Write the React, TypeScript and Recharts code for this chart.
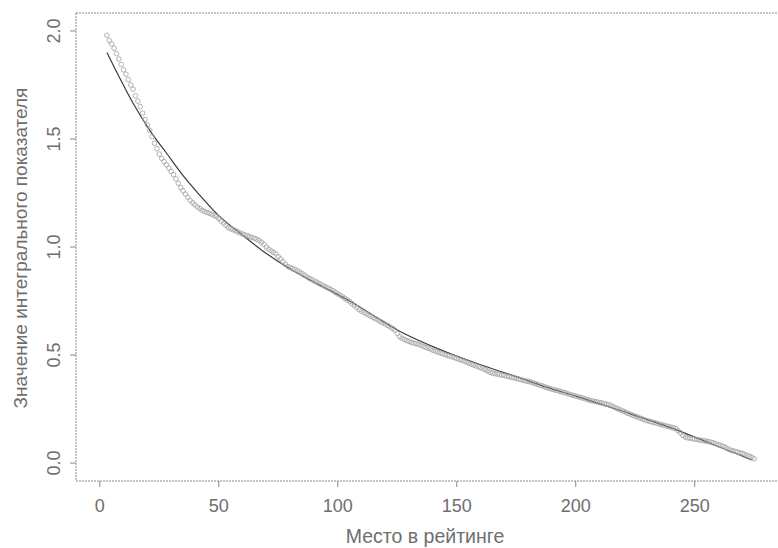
import React from "react";
import { ComposedChart, Scatter, Line, XAxis, YAxis, ReferenceLine } from "recharts";

// integral index value for each place in the rating, starting at place 3
const firstRank = 3;
const scores = [
  1.98, 1.955, 1.94, 1.92, 1.895, 1.87, 1.845, 1.82,
  1.8, 1.775, 1.75, 1.73, 1.7, 1.675, 1.65, 1.62, 1.59, 1.565,
  1.54, 1.51, 1.48, 1.455, 1.43, 1.41, 1.395, 1.38, 1.365, 1.35,
  1.335, 1.315, 1.295, 1.275, 1.26, 1.245, 1.23, 1.215, 1.205, 1.195,
  1.185, 1.178, 1.17, 1.165, 1.16, 1.156, 1.152, 1.146, 1.14, 1.132,
  1.12, 1.11, 1.1, 1.09, 1.085, 1.08, 1.075, 1.07, 1.065, 1.06,
  1.056, 1.052, 1.048, 1.044, 1.04, 1.036, 1.03, 1.022, 1.012, 1.0,
  0.99, 0.982, 0.975, 0.968, 0.955, 0.945, 0.932, 0.92, 0.91, 0.905,
  0.9, 0.896, 0.89, 0.884, 0.877, 0.87, 0.862, 0.855, 0.85, 0.843,
  0.838, 0.832, 0.826, 0.82, 0.815, 0.81, 0.804, 0.798, 0.79, 0.783,
  0.777, 0.77, 0.762, 0.755, 0.747, 0.738, 0.729, 0.72, 0.71, 0.703,
  0.697, 0.691, 0.685, 0.679, 0.673, 0.667, 0.661, 0.655, 0.649, 0.643,
  0.637, 0.63, 0.623, 0.615, 0.6, 0.585, 0.578, 0.572, 0.567, 0.563,
  0.558, 0.555, 0.552, 0.55, 0.545, 0.54, 0.535, 0.532, 0.528, 0.522,
  0.518, 0.514, 0.51, 0.506, 0.502, 0.498, 0.495, 0.492, 0.488, 0.484,
  0.48, 0.476, 0.472, 0.468, 0.463, 0.458, 0.454, 0.45, 0.446, 0.442,
  0.437, 0.432, 0.426, 0.42, 0.417, 0.414, 0.412, 0.41, 0.407, 0.405,
  0.402, 0.4, 0.397, 0.394, 0.392, 0.389, 0.386, 0.383, 0.38, 0.378,
  0.375, 0.372, 0.368, 0.364, 0.36, 0.357, 0.353, 0.349, 0.345, 0.342,
  0.339, 0.336, 0.333, 0.33, 0.327, 0.324, 0.32, 0.316, 0.313, 0.31,
  0.307, 0.304, 0.301, 0.297, 0.294, 0.29, 0.288, 0.285, 0.283, 0.28,
  0.278, 0.275, 0.272, 0.27, 0.265, 0.26, 0.255, 0.25, 0.245, 0.24,
  0.235, 0.23, 0.226, 0.221, 0.217, 0.213, 0.208, 0.204, 0.2, 0.196,
  0.193, 0.19, 0.187, 0.184, 0.181, 0.178, 0.175, 0.172, 0.169, 0.166,
  0.163, 0.16, 0.15, 0.14, 0.128, 0.12, 0.117, 0.115, 0.113, 0.111,
  0.109, 0.107, 0.105, 0.103, 0.101, 0.099, 0.096, 0.093, 0.089, 0.085,
  0.081, 0.077, 0.072, 0.066, 0.06, 0.057, 0.054, 0.051, 0.048, 0.045,
  0.041, 0.036, 0.031, 0.026, 0.02,
];

// fitted trend line, sampled along the rating
const fitRanks = [3, 8, 14, 21, 28, 35, 42, 50, 60, 70, 80, 92, 105, 126, 143, 160, 175, 188, 200, 221, 242, 258, 274];
const fitValues = [1.9, 1.79, 1.665, 1.54, 1.435, 1.33, 1.24, 1.145, 1.055, 0.97, 0.898, 0.826, 0.75, 0.61, 0.525, 0.455, 0.4, 0.35, 0.31, 0.235, 0.155, 0.085, 0.015];

const xTicks = [0, 50, 100, 150, 200, 250];
const yTicks = [0, 0.5, 1, 1.5, 2];
const xTitle = "Место в рейтинге";
const yTitle = "Значение интегрального показателя";

const xDomain = [-10, 285];
const yDomain = [-0.083, 2.083];

const points = scores.map((v, i) => ({ rank: firstRank + i, value: v }));
const fitLine = fitRanks.map((r, i) => ({ rank: r, value: fitValues[i] }));

const font = "'Liberation Sans', Arial, sans-serif";
const textGrey = "#6e6e6e";
const frame = "#888";

const Ring = (props: any) => {
  const { cx, cy } = props;
  if (cx == null || cy == null) return <g />;
  return <circle cx={cx} cy={cy} r={2.3} fill="none" stroke="#a0a0a0" strokeWidth={0.8} />;
};

const YTick = (props: any) => {
  const { y, payload } = props;
  return (
    <text
      x={60}
      y={y}
      transform={`rotate(-90 60 ${y})`}
      textAnchor="middle"
      fontSize={18}
      fontFamily={font}
      fill={textGrey}
    >
      {payload.value.toFixed(1)}
    </text>
  );
};

export default function App() {
  return (
    <div style={{ position: "absolute", left: 0, top: 0, width: 778, height: 548, background: "#fff" }}>
      <ComposedChart width={778} height={548} margin={{ top: 13, right: 0, bottom: 0, left: 0 }}>
        <XAxis
          type="number"
          dataKey="rank"
          domain={xDomain}
          ticks={xTicks}
          allowDataOverflow
          height={67}
          tickSize={6}
          tickMargin={12}
          axisLine={{ stroke: frame, strokeDasharray: "2 1" }}
          tickLine={{ stroke: frame }}
          tick={{ fontSize: 18, fontFamily: font, fill: textGrey }}
          label={{
            content: () => (
              <text x={425} y={543} textAnchor="middle" fontSize={19.5} fontFamily={font} fill={textGrey}>
                {xTitle}
              </text>
            ),
          }}
        />
        <YAxis
          type="number"
          dataKey="value"
          domain={yDomain}
          ticks={yTicks}
          allowDataOverflow
          width={76}
          tickSize={6}
          axisLine={{ stroke: frame, strokeDasharray: "2 1" }}
          tickLine={{ stroke: frame }}
          tick={<YTick />}
          label={{
            content: () => (
              <text
                x={27}
                y={248}
                transform="rotate(-90 27 248)"
                textAnchor="middle"
                fontSize={19}
                fontFamily={font}
                fill={textGrey}
              >
                {yTitle}
              </text>
            ),
          }}
        />
        <ReferenceLine y={yDomain[1]} stroke={frame} strokeDasharray="2 1" />
        <Scatter data={points} dataKey="value" shape={<Ring />} isAnimationActive={false} />
        <Line
          data={fitLine}
          dataKey="value"
          type="monotone"
          stroke="#3a3a3a"
          strokeWidth={1.2}
          dot={false}
          activeDot={false}
          isAnimationActive={false}
        />
      </ComposedChart>
    </div>
  );
}
